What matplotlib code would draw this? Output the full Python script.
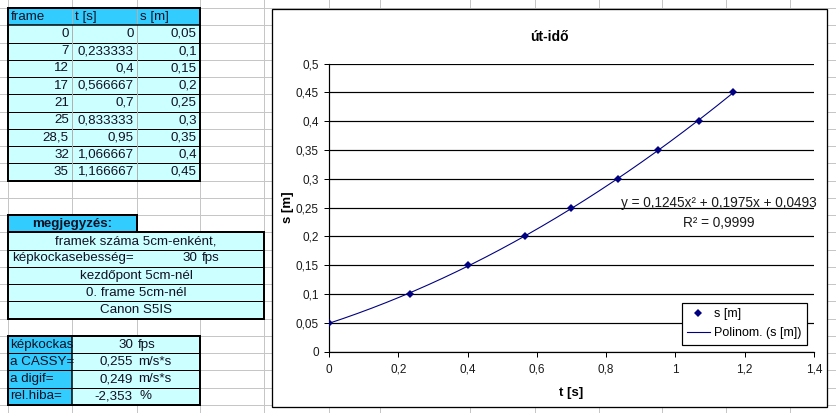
import matplotlib
matplotlib.use('Agg')
import matplotlib.pyplot as plt
import matplotlib.patches as mpatches
import numpy as np

plt.rcParams['font.family'] = ['Liberation Sans', 'DejaVu Sans']

# ── Data ──────────────────────────────────────────────────────────────────────
frames = [0, 7, 12, 17, 21, 25, 28.5, 32, 35]
t_vals = [0, 0.233333, 0.4, 0.566667, 0.7, 0.833333, 0.95, 1.066667, 1.166667]
s_vals = [0.05, 0.1, 0.15, 0.2, 0.25, 0.3, 0.35, 0.4, 0.45]
headers = ['frame', 't [s]', 's [m]']

notes = ['framek száma 5cm-enként,', None, 'kezdőpont 5cm-nél',
         '0. frame 5cm-nél', 'Canon S5IS']
# labels as they show in the (too narrow) cells
res_labels = ['képkockas', 'a CASSY=', 'a digif=', 'rel.hiba=']
res_numbers = ['30', '0,255', '0,249', '-2,353']
res_units = ['fps', 'm/s*s', 'm/s*s', '%']

x_ticks = [0, 0.2, 0.4, 0.6, 0.8, 1.0, 1.2, 1.4]
y_ticks = [0, 0.05, 0.1, 0.15, 0.2, 0.25, 0.3, 0.35, 0.4, 0.45, 0.5]

# ── Colours / geometry (pixels) ───────────────────────────────────────────────
W, H = 837, 413
GRID = '#c6c6c6'
CYAN = '#33ccff'
LCYAN = '#ccffff'
TXT = '#111122'
NAVY = '#000080'
COLS = [8, 72, 137, 200, 264, 329, 380, 470, 535, 599, 662, 726, 790]
ROW0, ROWH = 8.0, 17.26
PX = 0.72  # one pixel in points


def row(k):
    return ROW0 + ROWH * k


def fx(x, y):
    return x / W, 1 - y / H


fig = plt.figure(figsize=(W / 100, H / 100), dpi=100)
fig.patch.set_facecolor('white')

# ── Spreadsheet background ────────────────────────────────────────────────────
bg = fig.add_axes([0, 0, 1, 1], zorder=0)
bg.set_xlim(0, W)
bg.set_ylim(H, 0)
bg.axis('off')

for c in COLS:
    bg.plot([c, c], [0, H], color=GRID, lw=PX, zorder=1)
for k in range(24):
    bg.plot([0, W], [row(k), row(k)], color=GRID, lw=PX, zorder=1)


def cell(x0, x1, y0, y1, fc):
    bg.add_patch(mpatches.Rectangle((x0, y0), x1 - x0, y1 - y0, fc=fc,
                                    ec='none', zorder=2))


def hline(x0, x1, y, lw=PX, color='black'):
    bg.plot([x0, x1], [y, y], color=color, lw=lw, zorder=3,
            solid_capstyle='projecting')


def vline(x, y0, y1, lw=PX, color='black'):
    bg.plot([x, x], [y0, y1], color=color, lw=lw, zorder=3,
            solid_capstyle='projecting')


def box(x0, x1, y0, y1, lw=2 * PX):
    bg.add_patch(mpatches.Rectangle((x0, y0), x1 - x0, y1 - y0, fc='none',
                                    ec='black', lw=lw, zorder=4))


FS = 9.6

# ── Table 1: measured data ────────────────────────────────────────────────────
cell(COLS[0], COLS[3], row(0), row(1), CYAN)
cell(COLS[0], COLS[3], row(1), row(10), LCYAN)
for k in range(2, 10):
    hline(COLS[0], COLS[3], row(k))
for c in COLS[1:3]:
    vline(c, row(0), row(10), color='#b0b0b0')
hline(COLS[0], COLS[3], row(1), lw=1.5 * PX)
box(COLS[0], COLS[3], row(0), row(10))

for j, h in enumerate(headers):
    bg.text(COLS[j] + 3, (row(0) + row(1)) / 2, h, ha='left', va='center',
            fontsize=FS, color=TXT, zorder=5)


def num(v, nd=6):
    s = f'{v:.{nd}f}'.rstrip('0').rstrip('.')
    return s.replace('.', ',')


for i, (f, t, s) in enumerate(zip(frames, t_vals, s_vals)):
    yc = (row(i + 1) + row(i + 2)) / 2
    for j, txt in enumerate([num(f), num(t), num(s)]):
        bg.text(COLS[j + 1] - 3, yc, txt, ha='right', va='center',
                fontsize=FS, color=TXT, zorder=5)

# ── Table 2: notes ────────────────────────────────────────────────────────────
cell(COLS[0], COLS[2], row(12), row(13), CYAN)
box(COLS[0], COLS[2], row(12), row(13))
bg.text((COLS[0] + COLS[2]) / 2, (row(12) + row(13)) / 2, 'megjegyzés:',
        ha='center', va='center', fontsize=FS, fontweight='bold',
        color=TXT, zorder=5)
cell(COLS[0], COLS[4], row(13), row(18), LCYAN)
for k in range(14, 18):
    hline(COLS[0], COLS[4], row(k))
box(COLS[0], COLS[4], row(13), row(18))
for i, txt in enumerate(notes):
    yc = (row(13 + i) + row(14 + i)) / 2
    if txt is None:
        bg.text(12.5, yc, 'képkockasebesség=', ha='left', va='center',
                fontsize=FS, color=TXT, zorder=5)
        bg.text(197, yc, '30', ha='right', va='center', fontsize=FS,
                color=TXT, zorder=5)
        bg.text(201.5, yc, 'fps', ha='left', va='center', fontsize=FS,
                color=TXT, zorder=5)
    else:
        bg.text((COLS[0] + COLS[4]) / 2, yc, txt, ha='center', va='center',
                fontsize=FS, color=TXT, zorder=5)

# ── Table 3: results ──────────────────────────────────────────────────────────
cell(COLS[0], COLS[1], row(19), row(23), CYAN)
cell(COLS[1], COLS[3], row(19), row(23), LCYAN)
for k in range(20, 23):
    hline(COLS[0], COLS[3], row(k))
vline(COLS[1], row(19), row(23), lw=1.5 * PX)
box(COLS[0], COLS[3], row(19), row(23))
for i in range(4):
    yc = (row(19 + i) + row(20 + i)) / 2
    bg.text(COLS[0] + 2, yc, res_labels[i], ha='left', va='center',
            fontsize=FS, color=TXT, zorder=5)
    bg.text(133, yc, res_numbers[i], ha='right', va='center', fontsize=FS,
            color=TXT, zorder=5)
    bg.text(138 if i < 3 else 140, yc, res_units[i], ha='left',
            va='center', fontsize=FS, color=TXT, zorder=5)

# ── Chart object frame ────────────────────────────────────────────────────────
CX0, CX1, CY0, CY1 = 272, 827, 9, 407
bg.add_patch(mpatches.Rectangle((CX0, CY0), CX1 - CX0, CY1 - CY0, fc='white',
                                ec='black', lw=1.3 * PX, zorder=6))

# ── Chart ─────────────────────────────────────────────────────────────────────
PL, PR, PT, PB = 329, 814, 63.5, 351.7
ax = fig.add_axes([PL / W, 1 - PB / H, (PR - PL) / W, (PB - PT) / H],
                  zorder=1)
ax.patch.set_visible(False)

coef = np.polyfit(t_vals, s_vals, 2)
tt = np.linspace(min(t_vals), max(t_vals), 200)
trend, = ax.plot(tt, np.polyval(coef, tt), color=NAVY, lw=PX * 1.1,
                 zorder=3, label='Polinom. (s [m])')
pts, = ax.plot(t_vals, s_vals, 'D', color=NAVY, ms=3.8, mew=0, zorder=4,
               label='s [m]')

ax.set_xlim(0, 1.4)
ax.set_ylim(0, 0.5)
ax.set_xticks(x_ticks)
ax.set_yticks(y_ticks)
ax.set_xticklabels([num(v, 2) for v in x_ticks])
ax.set_yticklabels([num(v, 2) for v in y_ticks])
ax.yaxis.grid(True, color='black', lw=PX * 1.2)
ax.set_axisbelow(True)
for sp in ['top', 'right']:
    ax.spines[sp].set_visible(False)
for sp in ['left', 'bottom']:
    ax.spines[sp].set_color('black')
    ax.spines[sp].set_linewidth(PX * 1.2)
ax.tick_params(axis='both', direction='out', length=3.6, width=PX,
               color='black', labelsize=8.5, labelcolor='#1a1a1a')
ax.tick_params(axis='x', pad=5)
ax.tick_params(axis='y', pad=3.6)

ax.set_xlabel('t [s]', fontsize=9.5, fontweight='bold')
ax.set_ylabel('s [m]', fontsize=9.5, fontweight='bold')
ax.xaxis.set_label_coords(0.5, (PB - 392.7) / (PB - PT))
ax.xaxis.label.set_va('center')
ax.yaxis.set_label_coords((288 - PL) / (PR - PL), 0.5)
ax.yaxis.label.set_va('center')

fig.text(*fx((CX0 + CX1) / 2, 37), 'út-idő', ha='center', va='center',
         fontsize=10, fontweight='bold')
fig.text(*fx(719, 202.5), 'y = 0,1245x² + 0,1975x + 0,0493', ha='center',
         va='center', fontsize=9.8, color='#1a1a1a')
fig.text(*fx(719, 222.7), 'R² = 0,9999', ha='center', va='center',
         fontsize=9.8, color='#1a1a1a')

leg = ax.legend(handles=[pts, trend], loc='upper left',
                bbox_to_anchor=fx(681.6, 302.7),
                bbox_transform=fig.transFigure, borderaxespad=0,
                fontsize=9, frameon=True, fancybox=False, framealpha=1,
                edgecolor='black', handlelength=1.8, handletextpad=0.35,
                borderpad=0.45, labelspacing=0.55, numpoints=1)
leg.get_frame().set_linewidth(PX * 1.2)

fig.savefig('out.png', dpi=100, facecolor='white')
